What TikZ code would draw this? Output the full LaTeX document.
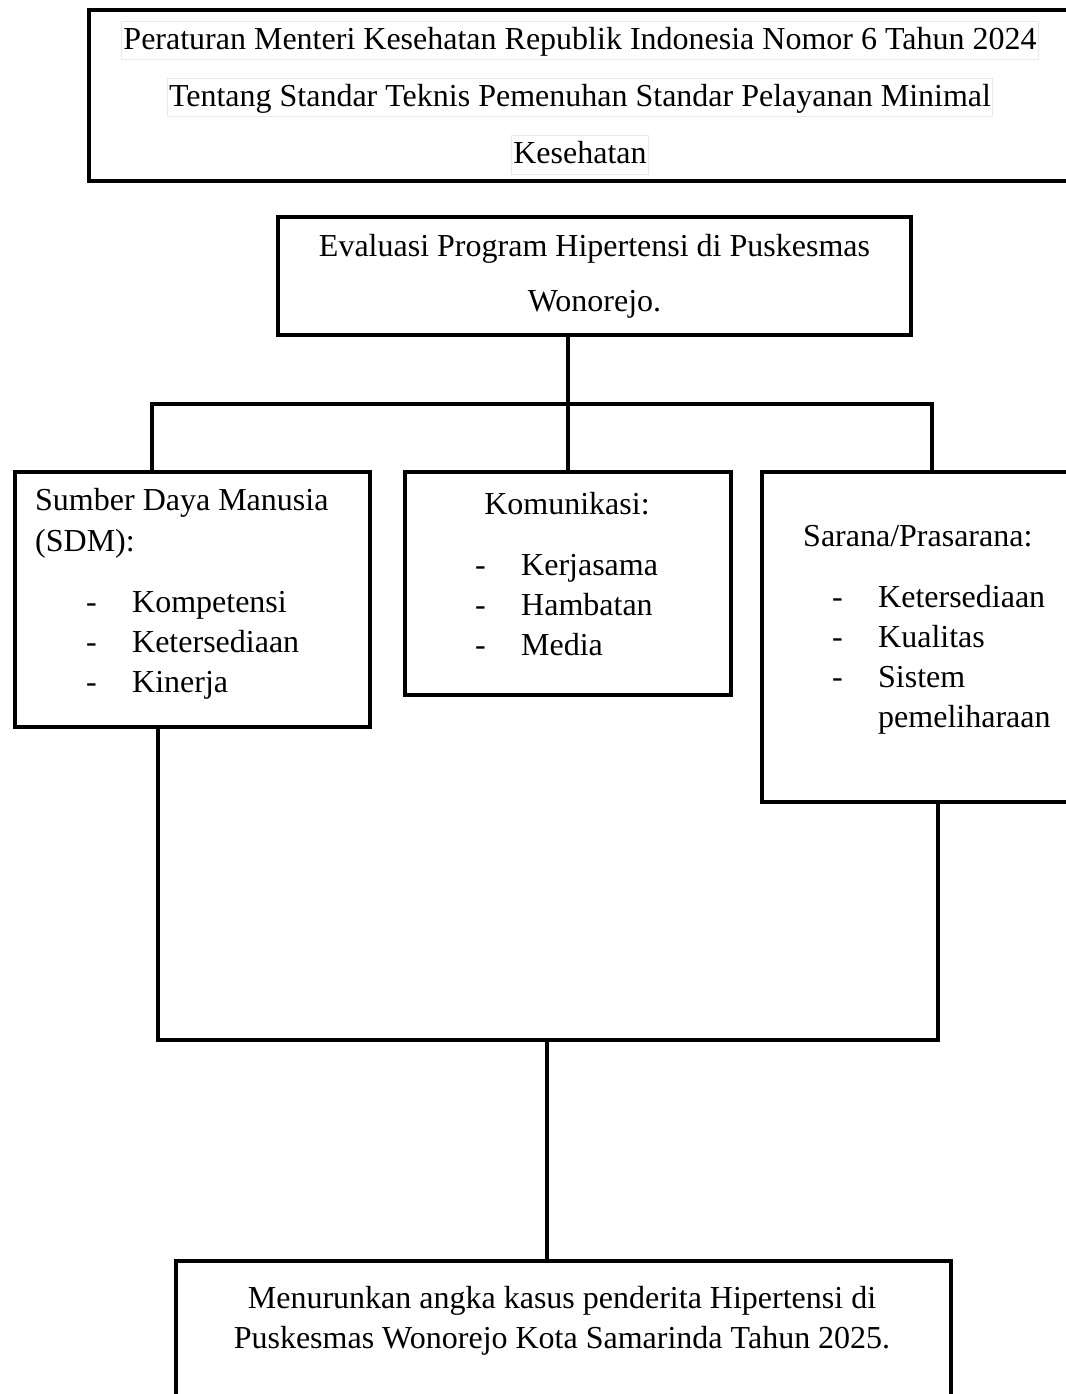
\documentclass[tikz,border=0pt]{standalone}
\usepackage{fontspec}
\setmainfont{Liberation Serif}
\usetikzlibrary{positioning}

\newcommand{\fsz}{\fontsize{32}{40}\selectfont}

\tikzset{
  box/.style={shape=rectangle, draw=black, line width=4pt, inner sep=0pt},
  link/.style={draw=black, line width=3.5pt},
  ctrtxt/.style={font=\fsz, inner sep=0pt, anchor=base},
  lefttxt/.style={font=\fsz, inner sep=0pt, anchor=base west},
  hilite/.style={ctrtxt, draw=gray!18, line width=1pt, inner xsep=1.5pt, inner ysep=1pt,
    text height=27pt, text depth=9pt}
}

\begin{document}
\begin{tikzpicture}[x=1pt, y=-1pt]
            \useasboundingbox (0,0) rectangle (1065,1394);

            % boxes
            \node[box, minimum width=991, minimum height=171] (regulasi) at (584.5,95.5) {};
            \node[box, minimum width=633, minimum height=118] (eval) at (594.5,276) {};
            \node[box, minimum width=355, minimum height=255] (sdm) at (192.5,599.5) {};
            \node[box, minimum width=326, minimum height=223] (kom) at (568,583.5) {};
            \node[box, minimum width=318, minimum height=330] (sarana) at (921,637) {};
            \node[box, minimum width=775, minimum height=159] (hasil) at (563.5,1340.5) {};

            % texts
            \node[hilite] (reg1) at (580,50) {Peraturan Menteri Kesehatan Republik Indonesia Nomor 6 Tahun 2024};
            \node[hilite] (reg2) at (580,107) {Tentang Standar Teknis Pemenuhan Standar Pelayanan Minimal};
            \node[hilite] (reg3) at (580,164) {Kesehatan};

            \node[ctrtxt] (eval1) at (594.5,256) {Evaluasi Program Hipertensi di Puskesmas};
            \node[ctrtxt] (eval2) at (594.5,311) {Wonorejo.};

            \node[lefttxt] (sdm0) at (35,510) {Sumber Daya Manusia};
            \node[lefttxt] (sdm00) at (35,551) {(SDM):};
            \foreach \t [count=\i] in {Kompetensi,Ketersediaan,Kinerja}
              \node[lefttxt] (sdm\i) at (86,572+40*\i) {\makebox[46pt][l]{-}\t};

            \node[ctrtxt] (kom0) at (567,514) {Komunikasi:};
            \foreach \t [count=\i] in {Kerjasama,Hambatan,Media}
              \node[lefttxt] (kom\i) at (475,535+40*\i) {\makebox[46pt][l]{-}\t};

            \node[lefttxt] (sarana0) at (803,546) {Sarana/Prasarana:};
            \foreach \t [count=\i] in {Ketersediaan,Kualitas,Sistem}
              \node[lefttxt] (sarana\i) at (832,567+40*\i) {\makebox[46pt][l]{-}\t};
            \node[lefttxt] (sarana4) at (878,727) {pemeliharaan};

            \node[ctrtxt] (hasil1) at (562,1308) {Menurunkan angka kasus penderita Hipertensi di};
            \node[ctrtxt] (hasil2) at (562,1348) {Puskesmas Wonorejo Kota Samarinda Tahun 2025.};

            % connectors
            \coordinate (busL) at (152,404);
            \coordinate (busR) at (932,404);
            \coordinate (joinL) at (158,1040);
            \coordinate (joinR) at (938,1040);
            \coordinate (joinM) at (547,1040);

            \path[link] (kom.north |- eval.south) -- (kom.north);
            \path[link] (busL |- sdm.north) -- (busL) -- (busR) -- (busR |- sarana.north);
            \path[link] (joinL |- sdm.south) -- (joinL) -- (joinR) -- (joinR |- sarana.south);
            \path[link] (joinM) -- (joinM |- hasil.north);
        \end{tikzpicture}
\end{document}
